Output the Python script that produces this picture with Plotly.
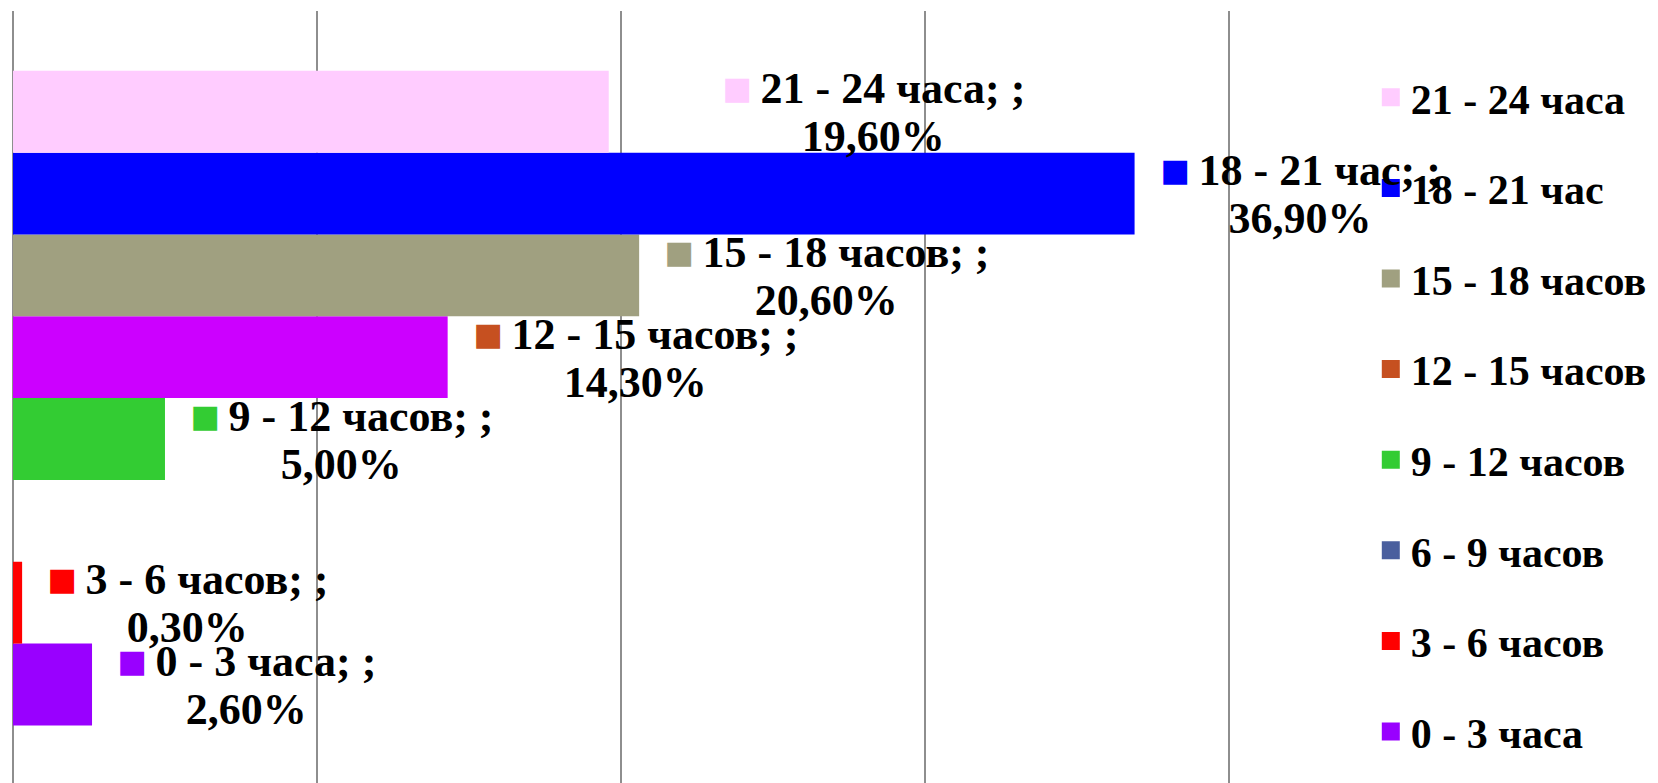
import plotly.graph_objects as go

categories = ["0 - 3 часа", "3 - 6 часов", "6 - 9 часов", "9 - 12 часов",
              "12 - 15 часов", "15 - 18 часов", "18 - 21 час", "21 - 24 часа"]
values = [2.6, 0.3, None, 5.0, 14.3, 20.6, 36.9, 19.6]
value_labels = ["2,60%", "0,30%", None, "5,00%", "14,30%", "20,60%", "36,90%", "19,60%"]
bar_colors = ["#9900FF", "#FF0000", "#4A5F9E", "#33CC33",
              "#CC00FF", "#A0A080", "#0000FF", "#FFCCFF"]
key_colors = ["#9900FF", "#FF0000", "#4A5F9E", "#33CC33",
              "#C65020", "#A0A080", "#0000FF", "#FFCCFF"]
x_ticks = [0, 10, 20, 30, 40]

FONT = "Liberation Serif"
label_nudge = {"21 - 24 часа": 88}

fig = go.Figure()

# bars: one per series, on numeric positions
for i, (cat, val, col) in enumerate(zip(categories, values, bar_colors)):
    fig.add_trace(go.Bar(
        x=[val], y=[i], orientation="h", width=1,
        marker=dict(color=col, line=dict(width=0)),
        showlegend=False, hoverinfo="skip",
    ))

# legend entries (top to bottom: 21-24 ... 0-3)
for cat, col in reversed(list(zip(categories, key_colors))):
    fig.add_trace(go.Scatter(
        x=[None], y=[None], mode="markers", name=cat, legendgroup=cat,
        marker=dict(symbol="square", size=16, color=col, line=dict(width=2, color=col)),
    ))

# data labels
for i, (cat, val, lab, col) in enumerate(zip(categories, values, value_labels, key_colors)):
    if val is None:
        continue
    fig.add_annotation(
        x=val, y=i, xref="x", yref="y",
        xanchor="left", yanchor="middle", align="center",
        xshift=22 + label_nudge.get(cat, 0), yshift=2,
        showarrow=False,
        text=(f'<span style="color:{col};font-size:48px;font-family:DejaVu Sans">▪</span>'
              f'<span style="font-size:28px">\u00a0</span>'
              f'<span style="font-size:44px">{cat}; ;</span><br>'
              f'<span style="font-size:44px">{lab}</span>'),
        font=dict(family=FONT, size=37, color="black", weight="bold"),
    )

fig.update_layout(
    width=1658, height=783,
    margin=dict(l=13, r=414, t=11, b=0),
    paper_bgcolor="white", plot_bgcolor="white",
    barmode="overlay",
    xaxis=dict(range=[0, 40.5], tickvals=x_ticks, showticklabels=False,
               showgrid=True, gridcolor="#8E8E8E", gridwidth=2,
               zeroline=True, zerolinecolor="#8E8E8E", zerolinewidth=2,
               showline=False, ticks=""),
    yaxis=dict(range=[-1.204, 8.231], showticklabels=False, showgrid=False,
               zeroline=False, showline=False, ticks=""),
    legend=dict(
        x=1.103, xanchor="left", y=0.932, yanchor="top",
        traceorder="grouped", tracegroupgap=33,
        font=dict(family=FONT, size=42, color="black", weight="bold"),
        bgcolor="rgba(0,0,0,0)", borderwidth=0,
    ),
    showlegend=True,
)

fig.write_html("out.html")
